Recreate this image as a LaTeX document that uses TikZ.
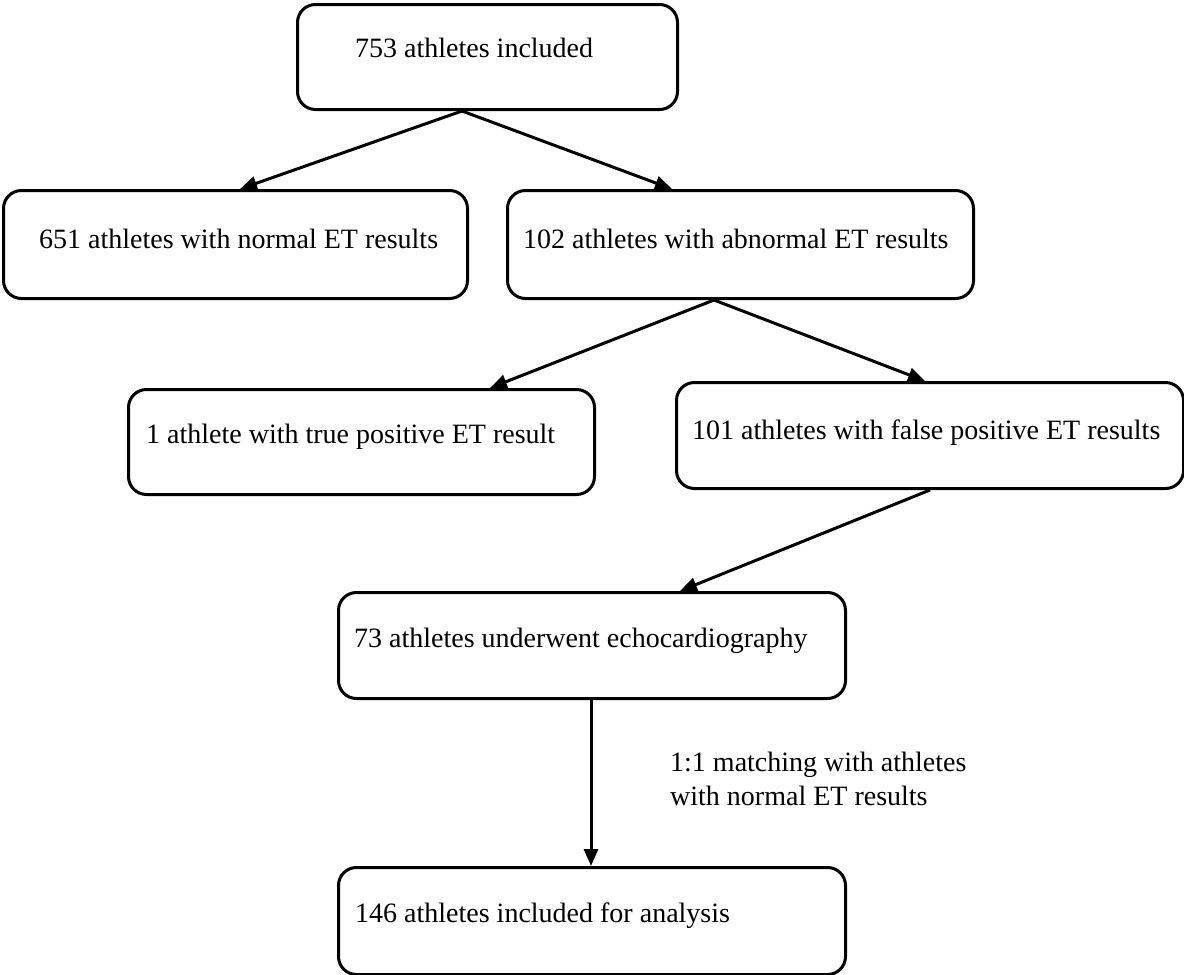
\documentclass[tikz,border=0pt]{standalone}
\usepackage{fontspec}
\setmainfont{Liberation Serif}
\usetikzlibrary{arrows.meta}
\begin{document}
\begin{tikzpicture}[x=1pt,y=-1pt,
  box/.style={draw=black,line width=3pt,rounded corners=18pt,anchor=north west,inner sep=0pt},
  lbl/.style={anchor=base west,inner sep=0pt,font=\fontsize{28}{34}\selectfont},
  arr/.style={line width=3pt,-{Triangle[length=17pt,width=14pt]}}]
\useasboundingbox (0,0) rectangle (1184,975);
\node[box,minimum width=380pt,minimum height=105pt] (b1) at (296,3) {};
\node[box,minimum width=464pt,minimum height=108pt] (b2) at (2,189) {};
\node[box,minimum width=466pt,minimum height=108pt] (b3) at (506,189) {};
\node[box,minimum width=466pt,minimum height=105pt] (b4) at (127,388) {};
\node[box,minimum width=507pt,minimum height=106pt] (b5) at (675,381) {};
\node[box,minimum width=507pt,minimum height=106pt] (b6) at (337,591) {};
\node[box,minimum width=507pt,minimum height=107pt] (b7) at (337,866) {};
\node[lbl] (t1) at (355,57) {753 athletes included};
\node[lbl] (t2) at (39,248) {651 athletes with normal ET results};
\node[lbl] (t3) at (523,248) {102 athletes with abnormal ET results};
\node[lbl] (t4) at (146,443) {1 athlete with true positive ET result};
\node[lbl] (t5) at (692,439) {101 athletes with false positive ET results};
\node[lbl] (t6) at (354,647) {73 athletes underwent echocardiography};
\node[lbl] (t7) at (355,922) {146 athletes included for analysis};
\node[lbl,align=left,anchor=north west] (t8) at (670,752) {1:1 matching with athletes\\with normal ET results};
\coordinate (s1) at ([xshift=166pt]b1.south west);
\coordinate (s3) at ([xshift=208pt]b3.south west);
\coordinate (s5) at ([xshift=255pt]b5.south west);
\coordinate (s6) at ([xshift=254pt]b6.south west);
\draw[arr] (s1) -- ([xshift=238pt]b2.north west);
\draw[arr] (s1) -- ([xshift=166pt]b3.north west);
\draw[arr] (s3) -- ([xshift=363pt]b4.north west);
\draw[arr] (s3) -- ([xshift=250pt]b5.north west);
\draw[arr] (s5) -- ([xshift=343pt]b6.north west);
\draw[arr] (s6) -- (s6 |- b7.north);
\end{tikzpicture}
\end{document}
